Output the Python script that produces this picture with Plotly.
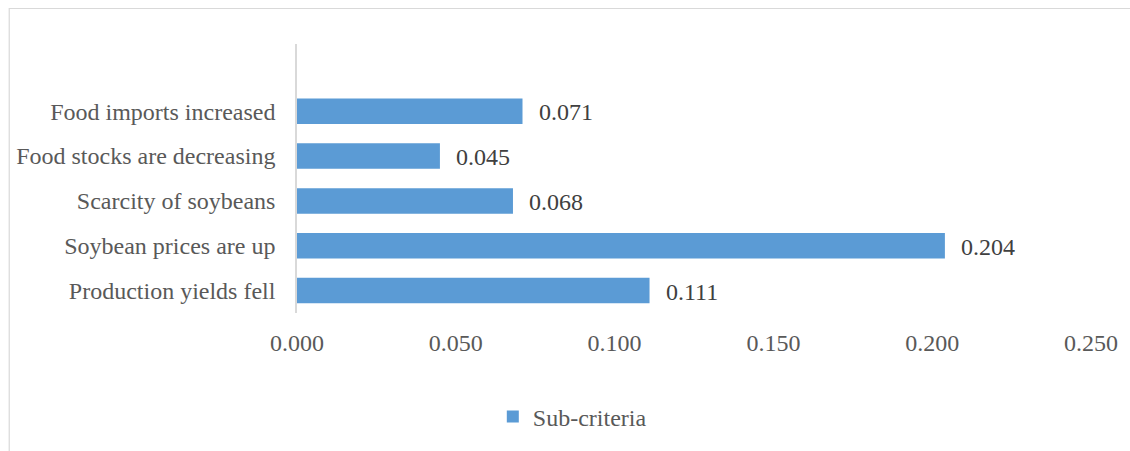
import plotly.graph_objects as go

# Sub-criteria weights
categories = [
    "Production yields fell",
    "Soybean prices are up",
    "Scarcity of soybeans",
    "Food stocks are decreasing",
    "Food imports increased",
]
weights = [0.111, 0.204, 0.068, 0.045, 0.071]
x_ticks = [0.0, 0.05, 0.10, 0.15, 0.20, 0.25]
x_tick_labels = ["0.000", "0.050", "0.100", "0.150", "0.200", "0.250"]

W, H = 1130, 451
L, R, T, B = 297, 37, 44, 138
pw, ph = W - L - R, H - T - B

FONT = "Liberation Serif, Times New Roman, serif"
FS = 24
BAR = "#5b9bd5"

fig = go.Figure()
fig.add_trace(go.Bar(
    x=weights,
    y=list(range(len(categories))),
    orientation="h",
    width=0.57,
    marker=dict(color=BAR, line=dict(width=0)),
    name="Sub-criteria",
    showlegend=True,
))

# value labels next to each bar
for i, v in enumerate(weights):
    fig.add_annotation(
        x=v, y=i, xref="x", yref="y",
        text=f"{v:.3f}", showarrow=False,
        xanchor="left", yanchor="middle", xshift=14, yshift=-1,
        font=dict(family=FONT, size=FS, color="#404040"),
    )

def px_x(p):
    return (p - L) / pw

def px_y(p):
    return (H - B - p) / ph

# outer chart border
fig.add_shape(
    type="rect", xref="paper", yref="paper",
    x0=px_x(8.5), x1=px_x(1145), y0=px_y(470), y1=px_y(8.5),
    line=dict(color="#d9d9d9", width=1.2), fillcolor="rgba(0,0,0,0)",
    layer="below",
)

fig.update_layout(
    width=W, height=H,
    margin=dict(l=L, r=R, t=T, b=B, pad=0),
    paper_bgcolor="white", plot_bgcolor="white",
    font=dict(family=FONT, size=FS, color="#595959"),
    bargap=0.43,
    xaxis=dict(
        range=[0, 0.25], tickvals=x_ticks, ticktext=x_tick_labels,
        showgrid=False, zeroline=False, showline=False,
        ticks="", ticklabelstandoff=13,
        tickfont=dict(family=FONT, size=FS, color="#595959"),
        fixedrange=True,
    ),
    yaxis=dict(
        range=[-0.5, 5.5], tickvals=list(range(len(categories))), ticktext=categories,
        showgrid=False, zeroline=False,
        showline=True, linecolor="#d9d9d9", linewidth=1.5,
        ticks="", ticklabelstandoff=15,
        tickfont=dict(family=FONT, size=FS, color="#595959"),
        fixedrange=True,
    ),
    legend=dict(
        orientation="h", x=px_x(573), y=px_y(417),
        xanchor="center", yanchor="middle",
        font=dict(family=FONT, size=FS, color="#595959"),
        itemwidth=30,
    ),
)

fig.write_html("out.html")
